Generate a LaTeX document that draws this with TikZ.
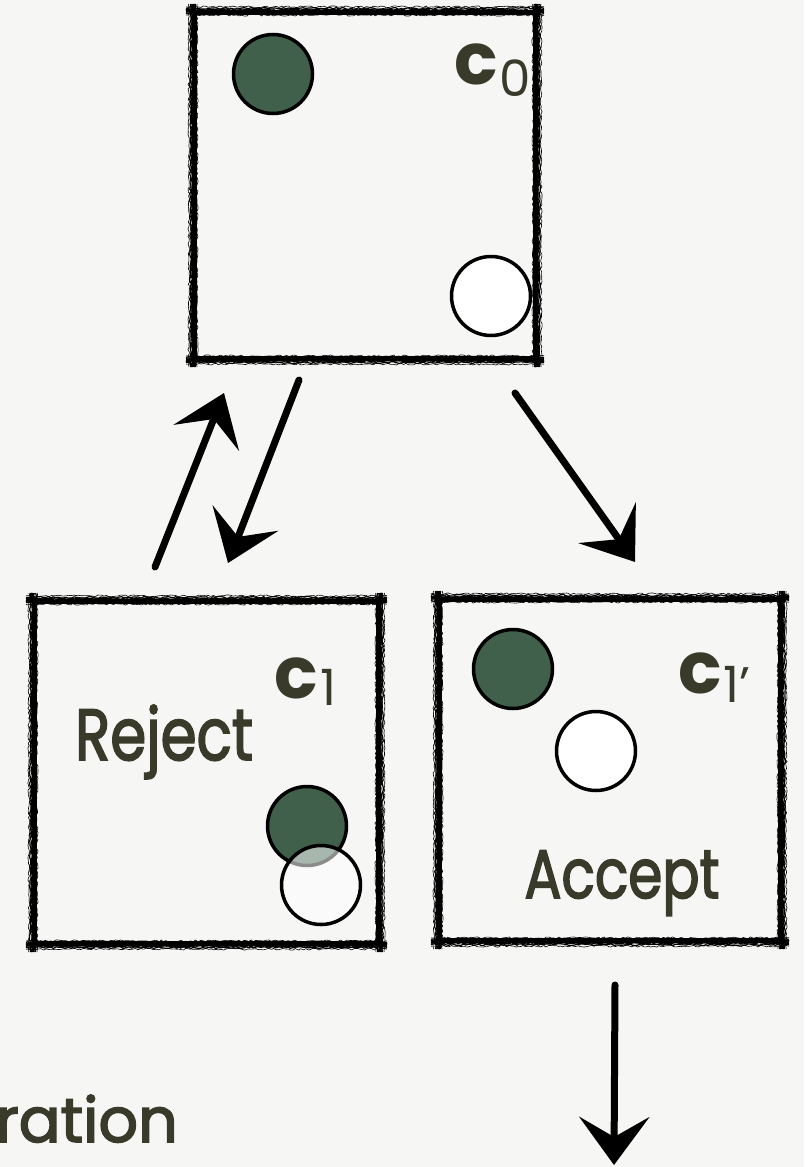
\documentclass[tikz,border=0pt]{standalone}
\usepackage{fontspec}
\setmainfont{Poppins}
\newfontfamily\hand{Poppins}[FakeBold=2.5]
\usetikzlibrary{arrows.meta,decorations.pathmorphing,calc}
\definecolor{paper}{RGB}{246,246,245}
\definecolor{ballgreen}{RGB}{64,96,76}
\definecolor{ink}{RGB}{58,58,42}
\tikzset{
  box/.style={draw=black, line width=4pt, inner sep=0pt},
  brush/.style={draw=black, decorate, decoration={random steps, segment length=2.5pt, amplitude=0.9pt}},
  gball/.style={circle, draw=black, line width=3.5pt, fill=ballgreen, minimum size=79pt, inner sep=0pt},
  wball/.style={circle, draw=black, line width=3.5pt, fill=white, minimum size=79pt, inner sep=0pt},
  arr/.style={line width=7pt, line cap=round, -{Stealth[length=48pt,width=70pt,inset=20pt]}},
  lab/.style={text=ink, inner sep=0pt},
}
\newcommand{\brushrect}[1]{%
  \foreach \o/\w in {0/3.2,-2.6/1.2,2.6/1.2,-4.2/0.6,4.2/0.6,-1.3/1,1.3/1}{%
    \draw[brush, line width=\w pt] ($(#1.north west)+(-7,\o)$) -- ($(#1.north east)+(7,\o)$);
    \draw[brush, line width=\w pt] ($(#1.south west)+(-7,\o)$) -- ($(#1.south east)+(7,\o)$);
    \draw[brush, line width=\w pt] ($(#1.north west)+(\o,-7)$) -- ($(#1.south west)+(\o,7)$);
    \draw[brush, line width=\w pt] ($(#1.north east)+(\o,-7)$) -- ($(#1.south east)+(\o,7)$);
  }}
\begin{document}
\begin{tikzpicture}[x=1pt,y=-1pt]
\useasboundingbox (0,0) rectangle (804,1167);
\clip (0,0) rectangle (804,1167);
\fill[paper] (0,0) rectangle (804,1167);

% boxes
\node[box, minimum width=340pt, minimum height=345pt] (b0) at (365,185.5) {};
\node[box, minimum width=343pt, minimum height=341pt] (b1) at (206.5,772.5) {};
\node[box, minimum width=340pt, minimum height=340pt] (b2) at (610,770) {};
\brushrect{b0}
\brushrect{b1}
\brushrect{b2}

% balls
\node[gball] (g0) at (273,74) {};
\node[wball] (w0) at (491,296) {};
\node[gball] (g1) at (307,826) {};
\node[wball, fill opacity=0.55] (w1) at (321,885) {};
\node[gball] (g2) at (513,669) {};
\node[wball] (w2) at (596,751) {};

% labels
\node[lab, font=\bfseries\fontsize{72}{72}\selectfont, anchor=base west] (c0c) at (454,84) {c};
\node[lab, font=\fontsize{50}{50}\selectfont, anchor=base west] (c0n) at (499,96) {0};
\node[lab, font=\bfseries\fontsize{72}{72}\selectfont, anchor=base west] (c1c) at (274,698) {c};
\node[lab, font=\fontsize{50}{50}\selectfont, anchor=base west] (c1n) at (320,705) {1};
\node[lab, font=\bfseries\fontsize{72}{72}\selectfont, anchor=base west] (c2c) at (678,693) {c};
\node[lab, font=\fontsize{50}{50}\selectfont, anchor=base west] (c2n) at (723,702) {1'};
\node[lab, font=\hand\fontsize{58}{58}\selectfont, anchor=base] (rej) at (164,760) {\scalebox{1}[1.25]{Reject}};
\node[lab, font=\hand\fontsize{55}{55}\selectfont, anchor=base] (acc) at (622,898) {\scalebox{1}[1.25]{Accept}};
\node[lab, font=\hand\fontsize{62}{62}\selectfont, anchor=base east] (rat) at (178,1142) {ration};

% arrows
\coordinate (u1) at (155,567); \coordinate (u2) at (224,393);
\coordinate (d1) at (299,380); \coordinate (d2) at (228,563);
\coordinate (r1) at (515,393); \coordinate (r2) at (635,562);
\coordinate (s1) at (615,985); \coordinate (s2) at (614,1165);
\draw[arr] (u1) -- (u2);
\draw[arr] (d1) -- (d2);
\draw[arr] (r1) -- (r2);
\draw[arr] (s1) -- (s2);
\end{tikzpicture}
\end{document}
